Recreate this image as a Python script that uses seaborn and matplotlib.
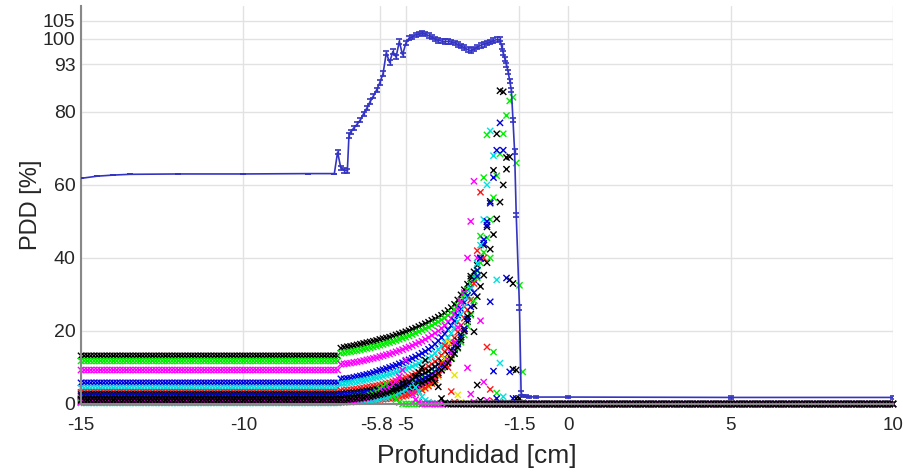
import numpy as np
import pandas as pd
import seaborn as sns
import matplotlib.pyplot as plt
import matplotlib.transforms as mtransforms

# depth grids of the dose samples [cm]
plateau_depth = np.round(np.arange(-15.0, -7.05, 0.1), 1)
rise_depth = np.round(np.arange(-7.0, -1.35, 0.1), 1)
tail_depth = np.round(np.arange(-1.3, 10.05, 0.1), 1)

# total PDD curve (blue, with error bars)
pdd_depth = [-15.0, -14.5, -14.0, -13.5, -12.0, -10.0, -8.0, -7.2, -7.1, -7.0, -6.9, -6.8,
             -6.75, -6.7, -6.6, -6.5, -6.4, -6.3, -6.2, -6.1, -6.0, -5.9, -5.8, -5.7,
             -5.6, -5.5, -5.4, -5.3, -5.2, -5.1, -5.0, -4.9, -4.8, -4.7, -4.6, -4.5,
             -4.4, -4.3, -4.2, -4.1, -4.0, -3.9, -3.8, -3.7, -3.6, -3.5, -3.4, -3.3,
             -3.2, -3.1, -3.0, -2.9, -2.8, -2.7, -2.6, -2.5, -2.4, -2.3, -2.2, -2.1,
             -2.05, -2.0, -1.95, -1.9, -1.85, -1.8, -1.75, -1.7, -1.65, -1.6, -1.5,
             -1.45, -1.4, -1.3, -1.2, -1.0, 0.0, 5.0, 10.0]
pdd_value = [61.8, 62.4, 62.7, 62.9, 63.0, 63.0, 63.1, 63.1, 69.0, 64.6, 64.0, 63.8,
             73.5, 74.5, 75.6, 76.6, 77.8, 79.5, 81.0, 82.8, 84.3, 86.0, 88.0, 90.5,
             96.2, 93.5, 96.5, 95.0, 99.3, 95.6, 98.8, 100.2, 100.5, 101.1, 101.3, 101.6,
             101.4, 100.9, 100.5, 100.0, 99.6, 99.4, 99.3, 99.3, 99.1, 98.9, 98.5, 98.1,
             97.6, 97.1, 96.8, 97.2, 97.7, 98.2, 98.5, 98.8, 99.1, 99.5, 99.8, 99.9,
             97.9, 96.1, 94.5, 92.9, 91.0, 88.5, 86.0, 77.8, 69.1, 51.8, 26.4,
             3.0, 2.2, 2.1, 2.0, 1.9, 1.9, 1.8, 1.8]
pdd_err = [0.0] * 8 + [0.6] * 64 + [0.3] * 7

# individual contributions: plateau level, then values on rise_depth (-7.0 ... -1.4)
levels = [13.2, 11.8, 9.3, 5.8, 4.4, 3.2, 2.6, 1.6, 2.2, 0.9, 0.7, 0.4, 1.3, 0.3, 0.4, 0.6, 1.0]
colors = ["#000000", "#00ee00", "#ff00ff", "#0000dd", "#00e0e0", "#ff1a1a", "#000000",
          "#00ee00", "#0000dd", "#e8e800", "#ff00ff", "#ff1a1a", "#000000", "#00e0e0",
          "#00ee00", "#ff00ff", "#000000"]

k1 = [15.3, 15.5, 15.7, 15.8, 16.0, 16.2, 16.4, 16.6, 16.8, 17.0, 17.2, 17.4, 17.7, 17.9, 18.1, 18.3,
      18.6, 18.9, 19.2, 19.5, 19.8, 20.1, 20.5, 20.8, 21.2, 21.6, 22.0, 22.4, 22.9, 23.3, 23.8,
      24.3, 24.9, 25.6, 26.4, 27.3, 28.5, 29.9, 31.3, 32.8, 34.3, 36.2, 38.0, 40.0, 43.5, 48.5, 55.5,
      64.0, 74.0, 85.8, 85.5, 67.5, 34.0, 9.5, 1.5, 0.3, 0.0]
g1 = [13.9, 14.0, 14.2, 14.3, 14.5, 14.6, 14.8, 15.0, 15.2, 15.4, 15.6, 15.8, 16.1, 16.3, 16.6, 16.8,
      17.1, 17.4, 17.7, 18.0, 18.3, 18.6, 19.0, 19.4, 19.8, 20.2, 20.6, 21.0, 21.5, 22.0, 22.5,
      23.0, 23.6, 24.3, 25.0, 25.9, 27.0, 28.3, 29.8, 31.3, 32.9, 34.6, 36.4, 38.6, 41.5, 45.5, 50.5,
      56.5, 62.5, 68.5, 74.0, 79.0, 83.0, 84.0, 66.0, 32.5, 8.8]
m1 = [10.9, 11.0, 11.1, 11.2, 11.4, 11.5, 11.7, 11.9, 12.1, 12.3, 12.5, 12.7, 13.0, 13.2, 13.5, 13.7,
      14.0, 14.3, 14.6, 14.9, 15.3, 15.6, 16.0, 16.4, 16.8, 17.2, 17.7, 18.2, 18.8, 19.4, 20.0,
      20.7, 21.5, 22.4, 23.4, 24.6, 26.0, 27.7, 30.5, 40.0, 50.0, 61.0, 40.0, 22.8, 6.0, 1.0, 0.2]
b1 = [6.9, 6.9, 7.0, 7.1, 7.3, 7.5, 7.7, 7.9, 8.1, 8.3, 8.6, 8.9, 9.2, 9.4, 9.7, 10.0,
      10.3, 10.6, 11.0, 11.3, 11.7, 12.1, 12.5, 12.9, 13.4, 13.9, 14.4, 15.0, 15.6, 16.4, 17.3,
      18.2, 19.2, 20.3, 21.5, 22.8, 24.3, 26.0, 27.8, 29.7, 31.8, 34.0, 36.6, 39.8, 44.0, 49.0, 55.0,
      62.0, 69.5, 77.0, 69.5, 34.5, 8.8, 1.5, 0.2]
c1 = [5.6, 5.6, 5.7, 5.8, 6.0, 6.1, 6.3, 6.4, 6.6, 6.8, 7.0, 7.2, 7.4, 7.6, 7.9, 8.1,
      8.4, 8.7, 9.0, 9.3, 9.6, 9.9, 10.3, 10.7, 11.1, 11.5, 12.0, 12.5, 13.1, 13.9, 14.9,
      15.8, 16.9, 18.1, 19.4, 20.9, 22.6, 24.5, 26.6, 29.0, 31.6, 34.6, 38.5, 43.5, 50.5, 60.0, 74.8,
      68.0, 34.0, 11.2, 2.0, 0.3]
r1 = [3.7, 3.7, 3.8, 3.9, 4.0, 4.1, 4.3, 4.4, 4.6, 4.7, 4.9, 5.0, 5.2, 5.4, 5.6, 5.8,
      6.1, 6.3, 6.6, 6.9, 7.2, 7.5, 7.9, 8.3, 8.7, 9.2, 9.7, 10.3, 10.9, 11.6, 12.4,
      13.3, 14.3, 15.4, 16.7, 18.1, 19.7, 21.5, 23.5, 25.8, 28.5, 33.0, 42.0, 58.0, 40.0, 15.6, 4.0,
      0.8, 0.1]
k2 = [2.8, 2.8, 2.9, 3.0, 3.1, 3.2, 3.3, 3.4, 3.6, 3.7, 3.9, 4.0, 4.2, 4.4, 4.6, 4.8,
      5.0, 5.2, 5.5, 5.8, 6.1, 6.4, 6.8, 7.2, 7.6, 8.0, 8.5, 9.0, 9.6, 10.2, 10.9,
      11.7, 12.6, 13.6, 14.7, 15.9, 17.3, 18.9, 20.6, 22.5, 24.6, 26.9, 29.4, 32.2, 35.3, 38.7, 42.4,
      46.4, 50.7, 55.3, 60.0, 64.3, 67.7, 33.0, 9.3, 1.5, 0.3]
g2 = [1.9, 1.9, 2.0, 2.1, 2.2, 2.3, 2.4, 2.5, 2.6, 2.7, 2.9, 3.0, 3.2, 3.3, 3.5, 3.7,
      3.9, 4.1, 4.3, 4.5, 4.8, 5.1, 5.4, 5.7, 6.1, 6.5, 6.9, 7.4, 7.9, 8.5, 9.1,
      9.8, 10.6, 11.5, 12.6, 13.8, 15.2, 16.9, 18.9, 21.3, 24.3, 28.2, 34.5, 46.0, 62.0, 73.7, 40.0,
      14.2, 3.0, 0.5]
b2 = [2.4, 2.4, 2.5, 2.5, 2.6, 2.7, 2.8, 2.9, 3.0, 3.1, 3.2, 3.3, 3.5, 3.6, 3.8, 4.0,
      4.2, 4.4, 4.6, 4.8, 5.1, 5.4, 5.7, 6.0, 6.4, 6.8, 7.2, 7.7, 8.2, 8.8, 9.5,
      10.3, 11.2, 12.2, 13.4, 14.8, 16.4, 18.3, 20.6, 23.3, 26.6, 30.5, 35.0, 40.0, 45.0, 50.0, 28.0,
      9.0, 1.5, 0.2]
y1 = [1.0, 1.0, 1.1, 1.1, 1.2, 1.2, 1.3, 1.3, 1.4, 1.5, 1.6, 1.7, 1.8, 1.9, 2.0, 2.1,
      2.3, 2.4, 2.6, 2.8, 3.0, 3.2, 3.5, 3.8, 4.1, 4.5, 4.9, 5.4, 5.9, 6.6, 7.5,
      9.5, 12.5, 17.0, 13.0, 7.9, 2.5, 0.5]
m2 = [0.9, 0.9, 1.0, 1.0, 1.1, 1.1, 1.2, 1.3, 1.4, 1.5, 1.6, 1.7, 1.8, 1.9, 2.1, 2.2,
      2.4, 2.6, 2.8, 3.0, 3.2, 3.5, 3.8, 4.1, 4.5, 4.9, 5.4, 5.9, 6.5, 7.2, 8.0,
      9.2, 10.5, 12.0, 14.0, 16.8, 21.0, 28.0, 20.0, 9.9, 2.7, 0.5]
r2 = [0.6, 0.6, 0.6, 0.6, 0.7, 0.7, 0.8, 0.8, 0.9, 0.9, 1.0, 1.1, 1.2, 1.3, 1.4, 1.5,
      1.6, 1.7, 1.9, 2.1, 2.3, 2.5, 2.8, 3.1, 3.4, 3.8, 4.3, 4.9, 5.6, 6.6, 8.0,
      11.0, 16.0, 10.0, 3.4, 0.5]
k3 = [1.5, 1.5, 1.6, 1.6, 1.7, 1.8, 1.9, 2.0, 2.1, 2.2, 2.3, 2.4, 2.6, 2.7, 2.9, 3.0,
      3.2, 3.4, 3.6, 3.8, 4.1, 4.4, 4.7, 5.0, 5.4, 5.8, 6.2, 6.7, 7.2, 7.8, 8.5,
      9.3, 10.2, 11.2, 12.4, 13.8, 15.5, 17.5, 20.0, 24.0, 35.0, 19.8, 5.2, 1.0, 0.2]
c2 = [0.4, 0.4, 0.5, 0.5, 0.6, 0.6, 0.7, 0.8, 0.9, 1.0, 1.1, 1.2, 1.4, 1.6, 1.8, 2.0,
      2.3, 2.6, 3.0, 3.5, 4.0, 4.7, 5.5, 4.6, 3.4, 2.0, 1.0, 0.5, 0.2]
g3 = [0.5, 0.6, 0.7, 0.8, 1.0, 1.2, 1.4, 1.7, 2.0, 2.4, 2.8, 3.4, 4.2, 4.8, 5.5, 4.0,
      2.3, 1.2, 0.4]
m3 = [0.7, 0.7, 0.8, 0.9, 1.0, 1.1, 1.3, 1.5, 1.7, 1.9, 2.2, 2.5, 2.9, 3.4, 3.9, 4.5,
      5.3, 6.3, 7.5, 9.3, 12.0, 6.5, 2.7, 1.2, 0.5]
k4 = [1.1, 1.1, 1.2, 1.3, 1.4, 1.5, 1.6, 1.7, 1.9, 2.0, 2.2, 2.4, 2.6, 2.8, 3.1, 3.4,
      3.7, 4.1, 4.5, 5.0, 5.5, 6.1, 6.8, 7.6, 8.6, 10.0, 12.0, 9.0, 7.0, 5.8, 4.7,
      1.5, 0.3]

rises = [k1, g1, m1, b1, c1, r1, k2, g2, b2, y1, m2, r2, k3, c2, g3, m3, k4]

# long table for seaborn
frames = []
for i, (lev, rise) in enumerate(zip(levels, rises)):
    dose = ([lev] * len(plateau_depth) + rise
            + [0.0] * (len(rise_depth) - len(rise)) + [0.0] * len(tail_depth))
    depth = np.r_[plateau_depth, rise_depth, tail_depth]
    frames.append(pd.DataFrame({"depth": depth, "dose": dose, "serie": f"s{i}"}))
df = pd.concat(frames, ignore_index=True)
palette = {f"s{i}": c for i, c in enumerate(colors)}

sns.set_style("white")
plt.rcParams["font.family"] = ["Liberation Sans", "DejaVu Sans"]

fig = plt.figure(figsize=(9.04, 4.72), dpi=100)
ax = fig.add_axes([81 / 904, 68 / 472, 812 / 904, 398 / 472])

sns.scatterplot(data=df, x="depth", y="dose", hue="serie", palette=palette,
                marker="x", s=20, linewidth=1.0, legend=False, ax=ax,
                clip_on=False, zorder=2)

ax.errorbar(pdd_depth, pdd_value, yerr=pdd_err, color="#3434c4", lw=1.2,
            elinewidth=1.0, capsize=2.5, capthick=1.2, zorder=3)

ax.set_xlim(-15, 10)
ax.set_ylim(0, 109)
xticks = [-15, -10, -5.8, -5, -1.5, 0, 5, 10]
xticklabels = ["-15", "-10", "-5.8", "-5", "-1.5", "0", "5", "10"]
yticks = [0, 20, 40, 60, 80, 93, 100, 105]
ax.set_xticks(xticks)
ax.set_xticklabels(xticklabels)
ax.set_yticks(yticks)
ax.set_yticklabels([str(v) for v in yticks])
ax.grid(True, color="#e2e2e2", lw=1.0)
ax.set_axisbelow(True)
ax.tick_params(direction="in", length=4, color="#888888")
ax.tick_params(axis="x", labelsize=13.5, pad=9)
ax.tick_params(axis="y", labelsize=14, pad=4)
for side in ["top", "right"]:
    ax.spines[side].set_visible(False)
for side in ["left", "bottom"]:
    ax.spines[side].set_color("#888888")
    ax.spines[side].set_linewidth(1.5)

# -5.8 sits a little to the left in the original
lab = ax.get_xticklabels()[2]
lab.set_transform(lab.get_transform() + mtransforms.ScaledTranslation(-3 / 100, 0, fig.dpi_scale_trans))

ax.set_xlabel("Profundidad [cm]", fontsize=19)
ax.set_ylabel("PDD [%]", fontsize=17)
ax.xaxis.set_label_coords(0.487, -0.1)
ax.yaxis.set_label_coords(-0.048, 0.5)

fig.savefig("out.png", dpi=100)
